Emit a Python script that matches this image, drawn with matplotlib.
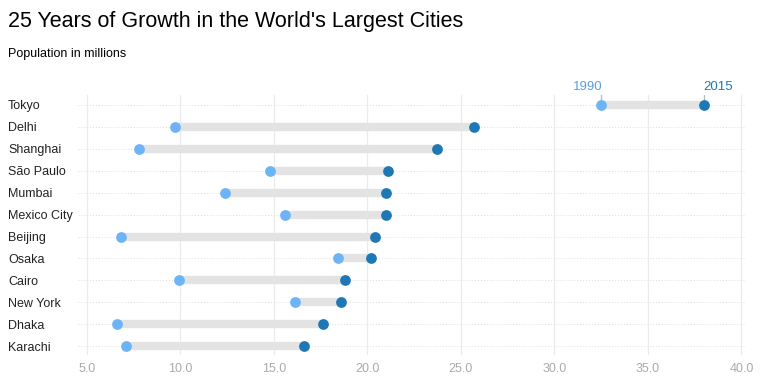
import matplotlib.pyplot as plt
import numpy as np

plt.rcParams['font.family'] = ['Liberation Sans', 'DejaVu Sans']

# Data
cities = ['Tokyo', 'Delhi', 'Shanghai', 'São Paulo', 'Mumbai', 'Mexico City',
          'Beijing', 'Osaka', 'Cairo', 'New York', 'Dhaka', 'Karachi']
pop_1990 = [32.5, 9.7, 7.8, 14.8, 12.4, 15.6, 6.8, 18.4, 9.9, 16.1, 6.6, 7.1]
pop_2015 = [38.0, 25.7, 23.7, 21.1, 21.0, 21.0, 20.4, 20.2, 18.8, 18.6, 17.6, 16.6]
xticks = [5, 10, 15, 20, 25, 30, 35, 40]

c1990 = '#6cb4f6'
c2015 = '#1f77b4'

fig = plt.figure(figsize=(7.76, 3.85), dpi=100)
ax = fig.add_axes([0.1005, 0.078, 0.8595, 0.675])

y = np.arange(len(cities))[::-1]

# grid
for t in xticks:
    ax.axvline(t, color='#ebebeb', lw=0.9, zorder=0)
for yy in y:
    ax.axhline(yy, color='#dddddd', lw=0.7, ls=(0, (1, 2)), zorder=0)

ax.hlines(y, pop_1990, pop_2015, color='#e3e3e3', lw=6, zorder=1)
ax.scatter(pop_1990, y, s=60, color=c1990, zorder=3, linewidths=0)
ax.scatter(pop_2015, y, s=60, color=c2015, zorder=3, linewidths=0)

# annotations above Tokyo
ax.plot([pop_1990[0], pop_1990[0]], [y[0], y[0] + 0.5], color='#bbbbbb', lw=1, zorder=2)
ax.plot([pop_2015[0], pop_2015[0]], [y[0], y[0] + 0.5], color='#bbbbbb', lw=1, zorder=2)
ax.text(pop_1990[0] + 0.05, y[0] + 0.55, '1990', color='#5a9fdc', fontsize=9.5,
        ha='right', va='bottom', clip_on=False)
ax.text(pop_2015[0] - 0.05, y[0] + 0.55, '2015', color=c2015, fontsize=9.5,
        ha='left', va='bottom', clip_on=False)

ax.set_xlim(4.52, 40.19)
ax.set_ylim(-0.4, 11.45)
ax.set_xticks(xticks)
ax.set_xticklabels([f'{t:.1f}' for t in xticks], color='#aaaaaa', fontsize=9)
ax.set_yticks(y)
ax.set_yticklabels(cities, fontsize=9, color='#222222')
for lab in ax.get_yticklabels():
    lab.set_horizontalalignment('left')
ax.tick_params(axis='y', length=0, pad=50.4)
ax.tick_params(axis='x', length=0, pad=6)
for s in ax.spines.values():
    s.set_visible(False)

fig.text(0.0103, 0.943, "25 Years of Growth in the World's Largest Cities",
         fontsize=15.5, va='center', ha='left')
fig.text(0.0103, 0.86, 'Population in millions', fontsize=9, va='center', ha='left')

fig.savefig('out.png', dpi=100)
